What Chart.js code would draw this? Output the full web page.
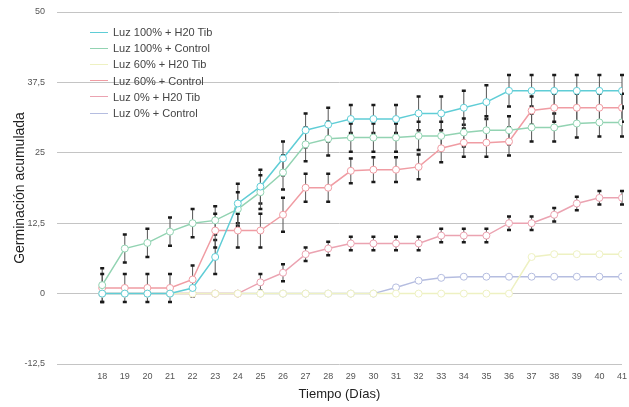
<!DOCTYPE html>
<html>
<head>
<meta charset="utf-8">
<script src="https://cdn.jsdelivr.net/npm/chart.js@4/dist/chart.umd.min.js"></script>
<style>
  html, body { margin: 0; padding: 0; background: #fff; }
  #wrap { position: relative; width: 629px; height: 407px; }
  #legend {
    position: absolute; left: 90px; top: 24px;
    font: 11px "Liberation Sans", Arial, sans-serif; color: #444;
  }
  .item { height: 16.2px; display: flex; align-items: center; white-space: nowrap; }
  .swatch { position: relative; width: 18px; height: 0; border-top: 1.5px solid; margin-right: 5px; }
</style>
</head>
<body>
<div id="wrap">
  <canvas id="c" width="629" height="407"></canvas>
  <div id="legend"></div>
</div>
<script>
// Days of the trial
const days = [18, 19, 20, 21, 22, 23, 24, 25, 26, 27, 28, 29, 30, 31, 32, 33, 34, 35, 36, 37, 38, 39, 40, 41];

// Series names (legend order)
const seriesNames = [
  'Luz 100% + H20 Tib',
  'Luz 100% + Control',
  'Luz 60% + H20 Tib',
  'Luz 60% + Control',
  'Luz 0% + H20 Tib',
  'Luz 0% + Control'
];

// Cumulative germination per treatment
const luz100Tib  = [0, 0, 0, 0, 1, 6.5, 16, 19, 24, 29, 30, 31, 31, 31, 32, 32, 33, 34, 36, 36, 36, 36, 36, 36];
const luz100Ctrl = [1.5, 8, 9, 11, 12.5, 13, 15, 18, 21.5, 26.5, 27.5, 27.7, 27.7, 27.7, 28, 28, 28.6, 29, 29, 29.5, 29.5, 30.2, 30.4, 30.4];
const luz60Tib   = [0, 0, 0, 0, 0, 0, 0, 0, 0, 0, 0, 0, 0, 0, 0, 0, 0, 0, 0, 6.5, 7, 7, 7, 7];
const luz60Ctrl  = [1, 1, 1, 1, 2.5, 11.2, 11.2, 11.2, 14, 18.8, 18.8, 21.8, 22, 22, 22.5, 25.8, 26.8, 26.8, 27, 32.5, 33, 33, 33, 33];
const luz0Tib    = [0, 0, 0, 0, 0, 0, 0, 2, 3.7, 7, 8, 8.9, 8.9, 8.9, 8.9, 10.3, 10.3, 10.3, 12.5, 12.5, 14, 16, 17, 17];
const luz0Ctrl   = [0, 0, 0, 0, 0, 0, 0, 0, 0, 0, 0, 0, 0, 1.1, 2.3, 2.8, 3, 3, 3, 3, 3, 3, 3, 3];

// Standard errors (0 = no bar)
const errLuz100Tib  = [0, 0, 0, 0, 1.5, 3, 3.5, 3, 3, 3, 3, 2.5, 2.5, 2.5, 3, 3, 3, 3, 2.8, 2.8, 2.8, 2.8, 2.8, 2.8];
const errLuz100Ctrl = [3, 2.5, 2.5, 2.5, 2.5, 2.5, 3, 3, 3, 3, 3, 2.5, 2.5, 2.5, 2.5, 2.5, 2.5, 2.5, 2.5, 2.5, 2.5, 2.5, 2.5, 2.5];
const errLuz60Ctrl  = [2.5, 2.5, 2.5, 2.5, 2.5, 3, 3, 3, 3, 2.5, 2.5, 2.2, 2.2, 2.2, 2.2, 2.5, 2.5, 2.5, 2.5, 2.5, 2.5, 2.5, 2.5, 2.5];
const errLuz0Tib    = [0, 0, 0, 0, 0, 0, 0, 1.5, 1.5, 1.2, 1.2, 1.2, 1.2, 1.2, 1.2, 1.2, 1.2, 1.2, 1.2, 1.2, 1.2, 1.2, 1.2, 1.2];

// Y-axis tick values
const yTicks = [-12.5, 0, 12.5, 25, 37.5, 50];

const seriesValues = [luz100Tib, luz100Ctrl, luz60Tib, luz60Ctrl, luz0Tib, luz0Ctrl];
const seriesErrors = [errLuz100Tib, errLuz100Ctrl, null, errLuz60Ctrl, errLuz0Tib, null];
const seriesColors = ['#5fcdd6', '#92d3b2', '#eef1c2', '#f09ca3', '#eba3b1', '#b5bde0'];

const datasets = seriesNames.map((name, i) => ({
  label: name,
  data: days.map((d, j) => ({ x: d, y: seriesValues[i][j] })),
  errors: seriesErrors[i],
  borderColor: seriesColors[i],
  backgroundColor: '#ffffff',
  pointBackgroundColor: '#ffffff',
  pointBorderColor: seriesColors[i],
  pointBorderWidth: 1,
  pointRadius: 3.5,
  borderWidth: 1.5,
  tension: 0
}));

// Vertical error bars with caps, placed through the chart scales
const errorBars = {
  id: 'errorBars',
  beforeDatasetsDraw(chart) {
    const { ctx, scales: { x, y } } = chart;
    ctx.save();
    chart.data.datasets.forEach(ds => {
      if (!ds.errors) return;
      ds.data.forEach((pt, j) => {
        const e = ds.errors[j];
        if (!e) return;
        const px = x.getPixelForValue(pt.x);
        const top = y.getPixelForValue(pt.y + e);
        const bot = y.getPixelForValue(pt.y - e);
        ctx.strokeStyle = '#555';
        ctx.lineWidth = 1;
        ctx.beginPath();
        ctx.moveTo(px, top);
        ctx.lineTo(px, bot);
        ctx.stroke();
        ctx.strokeStyle = '#1a1a1a';
        ctx.lineWidth = 2.5;
        ctx.beginPath();
        ctx.moveTo(px - 2, top); ctx.lineTo(px + 2, top);
        ctx.moveTo(px - 2, bot); ctx.lineTo(px + 2, bot);
        ctx.stroke();
      });
    });
    ctx.restore();
  }
};

const fontFamily = '"Liberation Sans", Arial, sans-serif';

new Chart(document.getElementById('c'), {
  type: 'line',
  data: { datasets },
  plugins: [errorBars],
  options: {
    responsive: false,
    devicePixelRatio: 1,
    animation: false,
    layout: { padding: { top: 0, right: 0, bottom: 0, left: 0 } },
    plugins: {
      legend: { display: false },
      tooltip: { enabled: false }
    },
    scales: {
      x: {
        type: 'linear',
        min: 16,
        max: 41,
        grid: { display: false, drawTicks: false },
        border: { display: false },
        afterFit(scale) { scale.height = 43; scale.paddingRight = 7; },
        ticks: {
          stepSize: 1,
          autoSkip: false,
          maxRotation: 0,
          padding: 7,
          color: '#555',
          font: { family: fontFamily, size: 9 },
          callback: v => (days.includes(v) ? String(v) : '')
        },
        title: {
          display: true,
          text: 'Tiempo (Días)',
          color: '#222',
          font: { family: fontFamily, size: 13 },
          padding: { top: 0, bottom: 5 }
        }
      },
      y: {
        min: -12.5,
        max: 50,
        afterFit(scale) { scale.width = 57; scale.paddingTop = 12; },
        afterBuildTicks(scale) { scale.ticks = yTicks.map(v => ({ value: v })); },
        grid: { color: '#c4c4c4', lineWidth: 1, drawTicks: false },
        border: { display: false },
        ticks: {
          padding: 12,
          color: '#555',
          font: { family: fontFamily, size: 9 },
          callback: v => String(v).replace('.', ',')
        },
        title: {
          display: true,
          text: 'Germinación acumulada',
          color: '#222',
          font: { family: fontFamily, size: 14 },
          padding: { top: 12, bottom: 0 }
        }
      }
    }
  }
});

// Legend inside the plot area
const legend = document.getElementById('legend');
seriesNames.forEach((name, i) => {
  const item = document.createElement('div');
  item.className = 'item';
  const sw = document.createElement('span');
  sw.className = 'swatch';
  sw.style.borderTopColor = seriesColors[i];
  item.appendChild(sw);
  item.appendChild(document.createTextNode(name));
  legend.appendChild(item);
});
</script>
</body>
</html>
